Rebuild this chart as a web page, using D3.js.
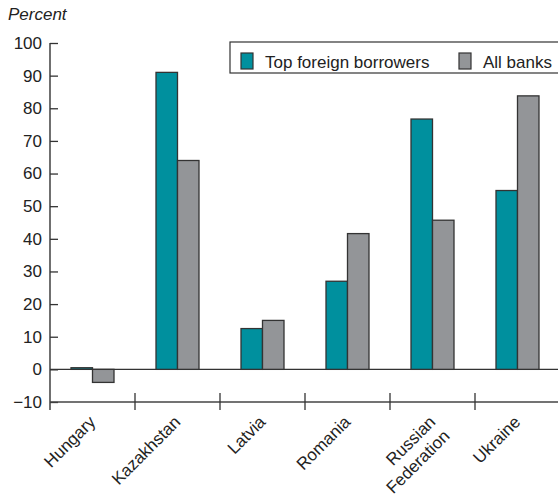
<!DOCTYPE html>
<html><head><meta charset="utf-8">
<script src="https://cdn.jsdelivr.net/npm/d3@7"></script>
<style>body{margin:0;background:#fff}svg{display:block;font-family:"Liberation Sans",Arial,sans-serif}</style>
</head><body><svg id="c" width="558" height="496"></svg>
<script>
const categories = ["Hungary","Kazakhstan","Latvia","Romania","Russian Federation","Ukraine"];
const labelLines = [["Hungary"],["Kazakhstan"],["Latvia"],["Romania"],["Russian","Federation"],["Ukraine"]];
const seriesNames = ["Top foreign borrowers","All banks"];
const topForeign = [0.5, 91, 12.5, 27, 76.7, 54.8];
const allBanks = [-4, 64, 15, 41.6, 45.7, 83.8];
const yTicks = [-10,0,10,20,30,40,50,60,70,80,90,100];
const colors = ["#00909e","#939598"];

(function(){
const svg = d3.select("#c");
const mL = 50, mR = 560, mT = 43, mB = 402;
const fs = 17;
const y = d3.scaleLinear().domain([-10,100]).range([mB, mT]);
const x = d3.scaleBand().domain(categories).range([mL, mR]).padding(0);
const bw = 21.5;

// zero line
svg.append("line").attr("x1",mL).attr("x2",558).attr("y1",y(0)).attr("y2",y(0)).attr("stroke","#333").attr("stroke-width",1.2);

// bars
const data = categories.map((c,i)=>({c, v:[topForeign[i], allBanks[i]]}));
data.forEach(d=>{
  d.v.forEach((v,j)=>{
    const cx = x(d.c) + x.bandwidth()/2;
    svg.append("rect")
      .attr("x", cx - bw + j*bw)
      .attr("y", y(Math.max(0,v)))
      .attr("width", bw)
      .attr("height", Math.abs(y(v)-y(0)))
      .attr("fill", colors[j]).attr("stroke","#333").attr("stroke-width",1.3);
  });
});

// y axis
const ya = svg.append("g").attr("transform",`translate(${mL},0)`)
  .call(d3.axisRight(y).tickValues(yTicks).tickSize(8).tickFormat(d=> d<0 ? "\u2212"+Math.abs(d) : d));
ya.select(".domain").remove();
ya.selectAll(".tick line").attr("stroke","#333").attr("stroke-width",1.3);
ya.selectAll(".tick text").attr("x",-8).attr("text-anchor","end").attr("font-size",fs).attr("fill","#222").attr("font-family","Liberation Sans, Arial, sans-serif");
svg.append("line").attr("x1",mL).attr("x2",mL).attr("y1",mT).attr("y2",410).attr("stroke","#333").attr("stroke-width",1.4);

// x axis
svg.append("line").attr("x1",mL).attr("x2",558).attr("y1",mB).attr("y2",mB).attr("stroke","#444").attr("stroke-width",1.4);
const bounds = categories.slice(1).map(c=>x(c));
svg.selectAll(".xt").data(bounds).join("line").attr("x1",d=>d).attr("x2",d=>d).attr("y1",393).attr("y2",410).attr("stroke","#333").attr("stroke-width",1.3);

// x labels
categories.forEach((c,i)=>{
  const cx = x(c) + x.bandwidth()/2 + 4;
  const t = svg.append("text").attr("transform",`translate(${cx},423) rotate(-45)`)
    .attr("text-anchor","end").attr("font-size",fs).attr("fill","#222");
  const lines = labelLines[i];
  lines.forEach((l,k)=>{
    t.append("tspan").attr("x",0).attr("dy", k===0 ? "0px" : "20px").text(l);
  });
});

// Percent
svg.append("text").attr("x",8).attr("y",20).attr("font-size",fs).attr("font-style","italic").attr("fill","#222").text("Percent");

// legend
svg.append("rect").attr("x",230).attr("y",42).attr("width",340).attr("height",31).attr("fill","#fff").attr("stroke","#333").attr("stroke-width",1.2);
const lx = [241, 459];
seriesNames.forEach((s,j)=>{
  svg.append("rect").attr("x",lx[j]).attr("y",53).attr("width",12).attr("height",16).attr("fill",colors[j]).attr("stroke","#333").attr("stroke-width",1.2);
  svg.append("text").attr("x",lx[j]+24).attr("y",68).attr("font-size",fs).attr("fill","#222").text(s);
});
})();
</script></body></html>
